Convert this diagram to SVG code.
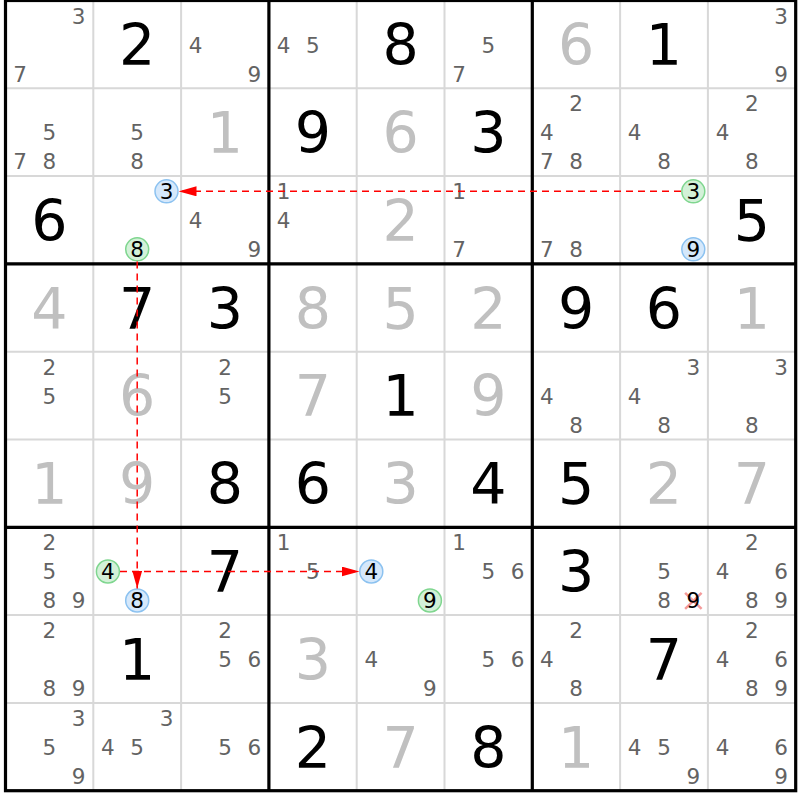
<svg xmlns="http://www.w3.org/2000/svg" width="800" height="800" viewBox="0 0 800 800">
<style>
text{font-family:"DejaVu Sans","Liberation Sans",sans-serif;text-anchor:middle}
.c{font-size:21.5px;fill:#636363}
.s{font-size:57px;fill:#000}
.g{font-size:57px;fill:#c0c0c0}
.k{font-size:21.5px;fill:#000}
.thin{stroke:#d8d8d8;stroke-width:2}
.thick{stroke:#000;stroke-width:3.2;fill:none}
.cb{fill:#d5e8fb;stroke:#8cc2f0;stroke-width:1.5}
.cg{fill:#d3f1d8;stroke:#7fd68f;stroke-width:1.5}
.arr{stroke:#f00;stroke-width:1.5;stroke-dasharray:7 5;fill:none;marker-end:url(#ah)}
.x{stroke:#f49a9a;stroke-width:2.5}
</style>
<defs>
<marker id="ah" viewBox="0 0 18 10" refX="18" refY="5" markerWidth="18" markerHeight="10" markerUnits="userSpaceOnUse" orient="auto"><path d="M0,0 L18,5 L0,10 z" fill="#f00" stroke="none"/></marker>
</defs>
<rect width="800" height="800" fill="#fff"/>
<g id="grid">
<path class="thin" d="M93.3,0.5V790.7M181.1,0.5V790.7M356.7,0.5V790.7M444.5,0.5V790.7M620.1,0.5V790.7M707.9,0.5V790.7M5.5,88.3H795.7M5.5,176.1H795.7M5.5,351.7H795.7M5.5,439.5H795.7M5.5,615.1H795.7M5.5,702.9H795.7"/>
<path class="thick" d="M268.9,0.5V790.7M532.3,0.5V790.7M5.5,263.9H795.7M5.5,527.3H795.7"/>
<rect class="thick" x="5.5" y="0.5" width="790.2" height="790.2"/>
</g>
<!-- Row 1 -->
<g id="r1c1" transform="translate(5.5,0.5)"><text class="c" x="73.2" y="23">3</text><text class="c" x="14.6" y="81">7</text></g>
<g id="r1c2" transform="translate(93.3,0.5)"><text class="s" x="43.9" y="64.7">2</text></g>
<g id="r1c3" transform="translate(181.1,0.5)"><text class="c" x="14.6" y="52">4</text><text class="c" x="73.2" y="81">9</text></g>
<g id="r1c4" transform="translate(268.9,0.5)"><text class="c" x="14.6" y="52">4</text><text class="c" x="43.9" y="52">5</text></g>
<g id="r1c5" transform="translate(356.7,0.5)"><text class="s" x="43.9" y="64.7">8</text></g>
<g id="r1c6" transform="translate(444.5,0.5)"><text class="c" x="43.9" y="52">5</text><text class="c" x="14.6" y="81">7</text></g>
<g id="r1c7" transform="translate(532.3,0.5)"><text class="g" x="43.9" y="64.7">6</text></g>
<g id="r1c8" transform="translate(620.1,0.5)"><text class="s" x="43.9" y="64.7">1</text></g>
<g id="r1c9" transform="translate(707.9,0.5)"><text class="c" x="73.2" y="23">3</text><text class="c" x="73.2" y="81">9</text></g>
<!-- Row 2 -->
<g id="r2c1" transform="translate(5.5,88.3)"><text class="c" x="43.9" y="52">5</text><text class="c" x="14.6" y="81">7</text><text class="c" x="43.9" y="81">8</text></g>
<g id="r2c2" transform="translate(93.3,88.3)"><text class="c" x="43.9" y="52">5</text><text class="c" x="43.9" y="81">8</text></g>
<g id="r2c3" transform="translate(181.1,88.3)"><text class="g" x="43.9" y="64.7">1</text></g>
<g id="r2c4" transform="translate(268.9,88.3)"><text class="s" x="43.9" y="64.7">9</text></g>
<g id="r2c5" transform="translate(356.7,88.3)"><text class="g" x="43.9" y="64.7">6</text></g>
<g id="r2c6" transform="translate(444.5,88.3)"><text class="s" x="43.9" y="64.7">3</text></g>
<g id="r2c7" transform="translate(532.3,88.3)"><text class="c" x="43.9" y="23">2</text><text class="c" x="14.6" y="52">4</text><text class="c" x="14.6" y="81">7</text><text class="c" x="43.9" y="81">8</text></g>
<g id="r2c8" transform="translate(620.1,88.3)"><text class="c" x="14.6" y="52">4</text><text class="c" x="43.9" y="81">8</text></g>
<g id="r2c9" transform="translate(707.9,88.3)"><text class="c" x="43.9" y="23">2</text><text class="c" x="14.6" y="52">4</text><text class="c" x="43.9" y="81">8</text></g>
<!-- Row 3 -->
<g id="r3c1" transform="translate(5.5,176.1)"><text class="s" x="43.9" y="64.7">6</text></g>
<g id="r3c2" transform="translate(93.3,176.1)"><circle class="cb" cx="73.2" cy="15.2" r="11.5"/><text class="k" x="73.2" y="23">3</text><circle class="cg" cx="43.9" cy="73.2" r="11.5"/><text class="k" x="43.9" y="81">8</text></g>
<g id="r3c3" transform="translate(181.1,176.1)"><text class="c" x="14.6" y="52">4</text><text class="c" x="73.2" y="81">9</text></g>
<g id="r3c4" transform="translate(268.9,176.1)"><text class="c" x="14.6" y="23">1</text><text class="c" x="14.6" y="52">4</text></g>
<g id="r3c5" transform="translate(356.7,176.1)"><text class="g" x="43.9" y="64.7">2</text></g>
<g id="r3c6" transform="translate(444.5,176.1)"><text class="c" x="14.6" y="23">1</text><text class="c" x="14.6" y="81">7</text></g>
<g id="r3c7" transform="translate(532.3,176.1)"><text class="c" x="14.6" y="81">7</text><text class="c" x="43.9" y="81">8</text></g>
<g id="r3c8" transform="translate(620.1,176.1)"><circle class="cg" cx="73.2" cy="15.2" r="11.5"/><text class="k" x="73.2" y="23">3</text><circle class="cb" cx="73.2" cy="73.2" r="11.5"/><text class="k" x="73.2" y="81">9</text></g>
<g id="r3c9" transform="translate(707.9,176.1)"><text class="s" x="43.9" y="64.7">5</text></g>
<!-- Row 4 -->
<g id="r4c1" transform="translate(5.5,263.9)"><text class="g" x="43.9" y="64.7">4</text></g>
<g id="r4c2" transform="translate(93.3,263.9)"><text class="s" x="43.9" y="64.7">7</text></g>
<g id="r4c3" transform="translate(181.1,263.9)"><text class="s" x="43.9" y="64.7">3</text></g>
<g id="r4c4" transform="translate(268.9,263.9)"><text class="g" x="43.9" y="64.7">8</text></g>
<g id="r4c5" transform="translate(356.7,263.9)"><text class="g" x="43.9" y="64.7">5</text></g>
<g id="r4c6" transform="translate(444.5,263.9)"><text class="g" x="43.9" y="64.7">2</text></g>
<g id="r4c7" transform="translate(532.3,263.9)"><text class="s" x="43.9" y="64.7">9</text></g>
<g id="r4c8" transform="translate(620.1,263.9)"><text class="s" x="43.9" y="64.7">6</text></g>
<g id="r4c9" transform="translate(707.9,263.9)"><text class="g" x="43.9" y="64.7">1</text></g>
<!-- Row 5 -->
<g id="r5c1" transform="translate(5.5,351.7)"><text class="c" x="43.9" y="23">2</text><text class="c" x="43.9" y="52">5</text></g>
<g id="r5c2" transform="translate(93.3,351.7)"><text class="g" x="43.9" y="64.7">6</text></g>
<g id="r5c3" transform="translate(181.1,351.7)"><text class="c" x="43.9" y="23">2</text><text class="c" x="43.9" y="52">5</text></g>
<g id="r5c4" transform="translate(268.9,351.7)"><text class="g" x="43.9" y="64.7">7</text></g>
<g id="r5c5" transform="translate(356.7,351.7)"><text class="s" x="43.9" y="64.7">1</text></g>
<g id="r5c6" transform="translate(444.5,351.7)"><text class="g" x="43.9" y="64.7">9</text></g>
<g id="r5c7" transform="translate(532.3,351.7)"><text class="c" x="14.6" y="52">4</text><text class="c" x="43.9" y="81">8</text></g>
<g id="r5c8" transform="translate(620.1,351.7)"><text class="c" x="73.2" y="23">3</text><text class="c" x="14.6" y="52">4</text><text class="c" x="43.9" y="81">8</text></g>
<g id="r5c9" transform="translate(707.9,351.7)"><text class="c" x="73.2" y="23">3</text><text class="c" x="43.9" y="81">8</text></g>
<!-- Row 6 -->
<g id="r6c1" transform="translate(5.5,439.5)"><text class="g" x="43.9" y="64.7">1</text></g>
<g id="r6c2" transform="translate(93.3,439.5)"><text class="g" x="43.9" y="64.7">9</text></g>
<g id="r6c3" transform="translate(181.1,439.5)"><text class="s" x="43.9" y="64.7">8</text></g>
<g id="r6c4" transform="translate(268.9,439.5)"><text class="s" x="43.9" y="64.7">6</text></g>
<g id="r6c5" transform="translate(356.7,439.5)"><text class="g" x="43.9" y="64.7">3</text></g>
<g id="r6c6" transform="translate(444.5,439.5)"><text class="s" x="43.9" y="64.7">4</text></g>
<g id="r6c7" transform="translate(532.3,439.5)"><text class="s" x="43.9" y="64.7">5</text></g>
<g id="r6c8" transform="translate(620.1,439.5)"><text class="g" x="43.9" y="64.7">2</text></g>
<g id="r6c9" transform="translate(707.9,439.5)"><text class="g" x="43.9" y="64.7">7</text></g>
<!-- Row 7 -->
<g id="r7c1" transform="translate(5.5,527.3)"><text class="c" x="43.9" y="23">2</text><text class="c" x="43.9" y="52">5</text><text class="c" x="43.9" y="81">8</text><text class="c" x="73.2" y="81">9</text></g>
<g id="r7c2" transform="translate(93.3,527.3)"><circle class="cg" cx="14.6" cy="44.2" r="11.5"/><text class="k" x="14.6" y="52">4</text><circle class="cb" cx="43.9" cy="73.2" r="11.5"/><text class="k" x="43.9" y="81">8</text></g>
<g id="r7c3" transform="translate(181.1,527.3)"><text class="s" x="43.9" y="64.7">7</text></g>
<g id="r7c4" transform="translate(268.9,527.3)"><text class="c" x="14.6" y="23">1</text><text class="c" x="43.9" y="52">5</text></g>
<g id="r7c5" transform="translate(356.7,527.3)"><circle class="cb" cx="14.6" cy="44.2" r="11.5"/><text class="k" x="14.6" y="52">4</text><circle class="cg" cx="73.2" cy="73.2" r="11.5"/><text class="k" x="73.2" y="81">9</text></g>
<g id="r7c6" transform="translate(444.5,527.3)"><text class="c" x="14.6" y="23">1</text><text class="c" x="43.9" y="52">5</text><text class="c" x="73.2" y="52">6</text></g>
<g id="r7c7" transform="translate(532.3,527.3)"><text class="s" x="43.9" y="64.7">3</text></g>
<g id="r7c8" transform="translate(620.1,527.3)"><text class="c" x="43.9" y="52">5</text><text class="c" x="43.9" y="81">8</text><path class="x" d="M65,65.5 L81.5,81.5 M65,81.5 L81.5,65.5"/><text class="k" x="73.2" y="81">9</text></g>
<g id="r7c9" transform="translate(707.9,527.3)"><text class="c" x="43.9" y="23">2</text><text class="c" x="14.6" y="52">4</text><text class="c" x="73.2" y="52">6</text><text class="c" x="43.9" y="81">8</text><text class="c" x="73.2" y="81">9</text></g>
<!-- Row 8 -->
<g id="r8c1" transform="translate(5.5,615.1)"><text class="c" x="43.9" y="23">2</text><text class="c" x="43.9" y="81">8</text><text class="c" x="73.2" y="81">9</text></g>
<g id="r8c2" transform="translate(93.3,615.1)"><text class="s" x="43.9" y="64.7">1</text></g>
<g id="r8c3" transform="translate(181.1,615.1)"><text class="c" x="43.9" y="23">2</text><text class="c" x="43.9" y="52">5</text><text class="c" x="73.2" y="52">6</text></g>
<g id="r8c4" transform="translate(268.9,615.1)"><text class="g" x="43.9" y="64.7">3</text></g>
<g id="r8c5" transform="translate(356.7,615.1)"><text class="c" x="14.6" y="52">4</text><text class="c" x="73.2" y="81">9</text></g>
<g id="r8c6" transform="translate(444.5,615.1)"><text class="c" x="43.9" y="52">5</text><text class="c" x="73.2" y="52">6</text></g>
<g id="r8c7" transform="translate(532.3,615.1)"><text class="c" x="43.9" y="23">2</text><text class="c" x="14.6" y="52">4</text><text class="c" x="43.9" y="81">8</text></g>
<g id="r8c8" transform="translate(620.1,615.1)"><text class="s" x="43.9" y="64.7">7</text></g>
<g id="r8c9" transform="translate(707.9,615.1)"><text class="c" x="43.9" y="23">2</text><text class="c" x="14.6" y="52">4</text><text class="c" x="73.2" y="52">6</text><text class="c" x="43.9" y="81">8</text><text class="c" x="73.2" y="81">9</text></g>
<!-- Row 9 -->
<g id="r9c1" transform="translate(5.5,702.9)"><text class="c" x="73.2" y="23">3</text><text class="c" x="43.9" y="52">5</text><text class="c" x="73.2" y="81">9</text></g>
<g id="r9c2" transform="translate(93.3,702.9)"><text class="c" x="73.2" y="23">3</text><text class="c" x="14.6" y="52">4</text><text class="c" x="43.9" y="52">5</text></g>
<g id="r9c3" transform="translate(181.1,702.9)"><text class="c" x="43.9" y="52">5</text><text class="c" x="73.2" y="52">6</text></g>
<g id="r9c4" transform="translate(268.9,702.9)"><text class="s" x="43.9" y="64.7">2</text></g>
<g id="r9c5" transform="translate(356.7,702.9)"><text class="g" x="43.9" y="64.7">7</text></g>
<g id="r9c6" transform="translate(444.5,702.9)"><text class="s" x="43.9" y="64.7">8</text></g>
<g id="r9c7" transform="translate(532.3,702.9)"><text class="g" x="43.9" y="64.7">1</text></g>
<g id="r9c8" transform="translate(620.1,702.9)"><text class="c" x="14.6" y="52">4</text><text class="c" x="43.9" y="52">5</text><text class="c" x="73.2" y="81">9</text></g>
<g id="r9c9" transform="translate(707.9,702.9)"><text class="c" x="14.6" y="52">4</text><text class="c" x="73.2" y="52">6</text><text class="c" x="73.2" y="81">9</text></g>
<g id="connectors">
<path class="arr" d="M681,191.3 H178.5"/>
<path class="arr" d="M137.2,261.5 V588.5"/>
<path class="arr" d="M120,571.5 H359.5"/>
</g>
</svg>
